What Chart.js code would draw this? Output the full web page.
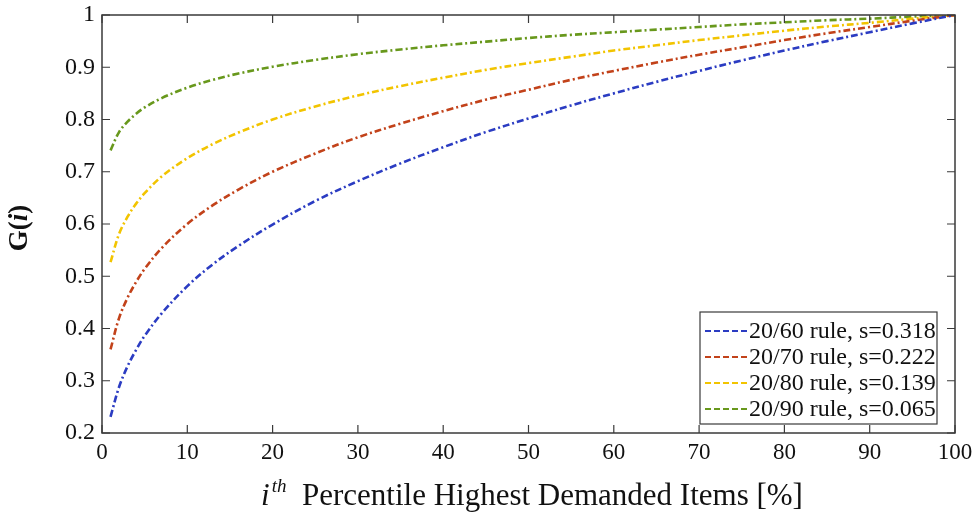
<!DOCTYPE html>
<html lang="en">
<head>
  <meta charset="UTF-8">
  <title>G(i) curves</title>
  <script src="https://cdn.jsdelivr.net/npm/chart.js"></script>
  <style>
    html, body { margin: 0; padding: 0; background: #fff; }
    #wrap { width: 972px; height: 512px; position: relative; }
  </style>
</head>
<body>
  <div id="wrap"><canvas id="grafico"></canvas></div>

  <script>
    // percentile positions read along the x axis
    const percentiles = [1, 2, 3, 4, 5, 7, 10, 13, 16, 20, 25, 30, 35, 40, 45, 50, 55, 60, 65, 70, 75, 80, 85, 90, 95, 100];

    // G(i)
    const rule60 = [0.231, 0.288, 0.328, 0.359, 0.386, 0.429, 0.481, 0.523, 0.558, 0.599, 0.644, 0.682, 0.716, 0.747, 0.776, 0.802, 0.827, 0.850, 0.872, 0.893, 0.913, 0.932, 0.950, 0.967, 0.984, 1.0];
    const rule70 = [0.360, 0.420, 0.459, 0.489, 0.514, 0.554, 0.600, 0.636, 0.666, 0.700, 0.735, 0.766, 0.792, 0.816, 0.838, 0.857, 0.876, 0.893, 0.909, 0.924, 0.938, 0.952, 0.965, 0.977, 0.989, 1.0];
    const rule80 = [0.527, 0.581, 0.614, 0.639, 0.659, 0.691, 0.726, 0.753, 0.775, 0.800, 0.825, 0.846, 0.864, 0.880, 0.895, 0.908, 0.920, 0.932, 0.942, 0.952, 0.961, 0.970, 0.978, 0.985, 0.993, 1.0];
    const rule90 = [0.741, 0.776, 0.796, 0.811, 0.823, 0.841, 0.861, 0.876, 0.888, 0.901, 0.914, 0.925, 0.934, 0.942, 0.949, 0.956, 0.962, 0.967, 0.972, 0.977, 0.982, 0.986, 0.990, 0.993, 0.997, 1.0];

    const etiquetas = ['20/60 rule, s=0.318', '20/70 rule, s=0.222', '20/80 rule, s=0.139', '20/90 rule, s=0.065'];
    const colores = ['#2b3cc2', '#c2421a', '#f2c400', '#68981c'];
    const series = [rule60, rule70, rule80, rule90];

    const xTicks = [0, 10, 20, 30, 40, 50, 60, 70, 80, 90, 100];
    const yTicks = [0.2, 0.3, 0.4, 0.5, 0.6, 0.7, 0.8, 0.9, 1];

    const SERIF = '"Liberation Serif", "DejaVu Serif", serif';
    const DASH = [7, 3, 2, 3];

    const datasets = series.map((ys, k) => ({
      label: etiquetas[k],
      data: percentiles.map((p, j) => ({ x: p, y: ys[j] })),
      borderColor: colores[k],
      borderWidth: 2.6,
      borderDash: DASH,
      pointRadius: 0,
      tension: 0.35,
      fill: false
    }));

    // frame, inward ticks, axis titles and legend box
    const adornos = {
      id: 'adornos',
      afterDraw(chart) {
        const ctx = chart.ctx;
        const a = chart.chartArea;
        const xs = chart.scales.x, ys = chart.scales.y;
        ctx.save();
        ctx.strokeStyle = '#3a3a3a';
        ctx.lineWidth = 1.5;
        ctx.strokeRect(a.left, a.top, a.right - a.left, a.bottom - a.top);

        ctx.lineWidth = 1.2;
        ctx.beginPath();
        xTicks.forEach(v => {
          const px = xs.getPixelForValue(v);
          ctx.moveTo(px, a.bottom); ctx.lineTo(px, a.bottom - 8);
          ctx.moveTo(px, a.top); ctx.lineTo(px, a.top + 8);
        });
        yTicks.forEach(v => {
          const py = ys.getPixelForValue(v);
          ctx.moveTo(a.left, py); ctx.lineTo(a.left + 8, py);
          ctx.moveTo(a.right, py); ctx.lineTo(a.right - 8, py);
        });
        ctx.stroke();

        // y title: G(i)
        ctx.fillStyle = '#111';
        ctx.translate(20, 228);
        ctx.rotate(-Math.PI / 2);
        ctx.textBaseline = 'middle';
        const partesY = [['G(', 'bold 27px ' + SERIF], ['i', 'italic bold 27px ' + SERIF], [')', 'bold 27px ' + SERIF]];
        let total = 0;
        partesY.forEach(p => { ctx.font = p[1]; total += ctx.measureText(p[0]).width; });
        let cx = -total / 2;
        ctx.textAlign = 'left';
        partesY.forEach(p => { ctx.font = p[1]; ctx.fillText(p[0], cx, 0); cx += ctx.measureText(p[0]).width; });
        ctx.setTransform(1, 0, 0, 1, 0, 0);

        // x title
        ctx.textBaseline = 'alphabetic';
        const fI = 'italic 31px ' + SERIF, fTh = 'italic 19px ' + SERIF, fR = '31px ' + SERIF;
        const resto = '  Percentile Highest Demanded Items [%]';
        ctx.font = fI; const wI = ctx.measureText('i').width;
        ctx.font = fTh; const wTh = ctx.measureText('th').width;
        ctx.font = fR; const wR = ctx.measureText(resto).width;
        let x0 = 532 - (wI + wTh + 2 + wR) / 2;
        const base = 505;
        ctx.font = fI; ctx.fillText('i', x0, base); x0 += wI + 2;
        ctx.font = fTh; ctx.fillText('th', x0, base - 13); x0 += wTh;
        ctx.font = fR; ctx.fillText(resto, x0, base);

        // legend
        const lx = 700, ly = 312, lw = 237, lh = 112;
        ctx.fillStyle = '#fff';
        ctx.fillRect(lx, ly, lw, lh);
        ctx.strokeStyle = '#3a3a3a';
        ctx.lineWidth = 1.2;
        ctx.strokeRect(lx, ly, lw, lh);
        ctx.font = '24px ' + SERIF;
        ctx.textBaseline = 'middle';
        etiquetas.forEach((t, k) => {
          const y = ly + 19 + k * 26;
          ctx.strokeStyle = colores[k];
          ctx.lineWidth = 2.2;
          ctx.setLineDash([6, 3]);
          ctx.beginPath(); ctx.moveTo(lx + 5, y); ctx.lineTo(lx + 47, y); ctx.stroke();
          ctx.setLineDash([]);
          ctx.fillStyle = '#111';
          ctx.fillText(t, lx + 49, y + 1);
        });
        ctx.restore();
      }
    };

    new Chart(document.getElementById('grafico'), {
      type: 'line',
      data: { datasets },
      options: {
        responsive: true,
        maintainAspectRatio: false,
        animation: false,
        layout: { padding: { left: 0, top: 15, right: 17, bottom: 0 } },
        plugins: { legend: { display: false }, tooltip: { enabled: false } },
        scales: {
          x: {
            type: 'linear', min: 0, max: 100,
            afterBuildTicks: s => { s.ticks = xTicks.map(v => ({ value: v })); },
            afterFit: s => { s.height = 79; s.paddingLeft = 0; s.paddingRight = 0; },
            grid: { display: false, drawTicks: false },
            border: { display: false },
            ticks: { color: '#111', padding: 6, maxRotation: 0, font: { family: SERIF, size: 23 } }
          },
          y: {
            type: 'linear', min: 0.2, max: 1,
            afterBuildTicks: s => { s.ticks = yTicks.map(v => ({ value: v })); },
            afterFit: s => { s.width = 102; s.paddingTop = 0; s.paddingBottom = 0; },
            grid: { display: false, drawTicks: false },
            border: { display: false },
            ticks: { color: '#111', padding: 7, font: { family: SERIF, size: 24 }, callback: v => String(+v.toFixed(1)) }
          }
        }
      },
      plugins: [adornos]
    });
  </script>
</body>
</html>
